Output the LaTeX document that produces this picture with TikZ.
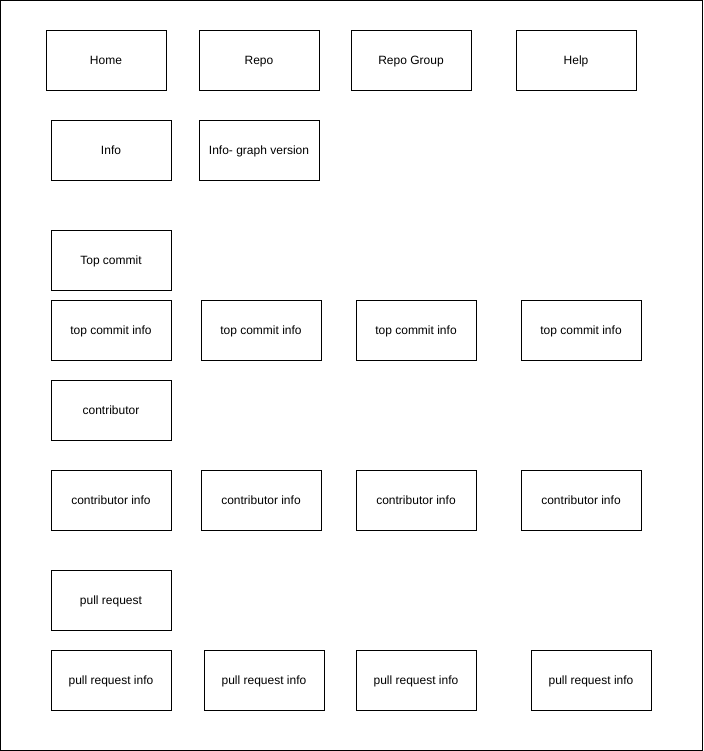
\documentclass[tikz,border=0pt]{standalone}
\usepackage{fontspec}
\setmainfont{Liberation Sans}
\tikzset{pagebox/.style={draw=black, line width=0.9pt, minimum width=120pt, minimum height=60pt, inner sep=0pt, text height=9pt, text depth=0pt, font={\fontsize{12}{14}\selectfont}}}

\begin{document}
\begin{tikzpicture}[x=1pt,y=-1pt]
\draw[line width=1pt] (0.5,0.5) rectangle (702.5,750.5);
\useasboundingbox (0,0) rectangle (703,751);
\node[pagebox] (home) at (106,60) {Home};
\node[pagebox] (repo) at (259,60) {Repo};
\node[pagebox] (repogroup) at (411,60) {Repo Group};
\node[pagebox] (help) at (576,60) {Help};
\node[pagebox] (info) at (111,150) {Info};
\node[pagebox] (infograph) at (259,150) {Info- graph version};
\node[pagebox] (topcommit) at (111,260) {Top commit};
\node[pagebox] (tcinfoa) at (111,330) {top commit info};
\node[pagebox] (tcinfob) at (261,330) {top commit info};
\node[pagebox] (tcinfoc) at (416,330) {top commit info};
\node[pagebox] (tcinfod) at (581,330) {top commit info};
\node[pagebox] (contrib) at (111,410) {contributor};
\node[pagebox] (cinfoa) at (111,500) {contributor info};
\node[pagebox] (cinfob) at (261,500) {contributor info};
\node[pagebox] (cinfoc) at (416,500) {contributor info};
\node[pagebox] (cinfod) at (581,500) {contributor info};
\node[pagebox] (pullreq) at (111,600) {pull request};
\node[pagebox] (prinfoa) at (111,680) {pull request info};
\node[pagebox] (prinfob) at (264,680) {pull request info};
\node[pagebox] (prinfoc) at (416,680) {pull request info};
\node[pagebox] (prinfod) at (591,680) {pull request info};
\end{tikzpicture}
\end{document}
